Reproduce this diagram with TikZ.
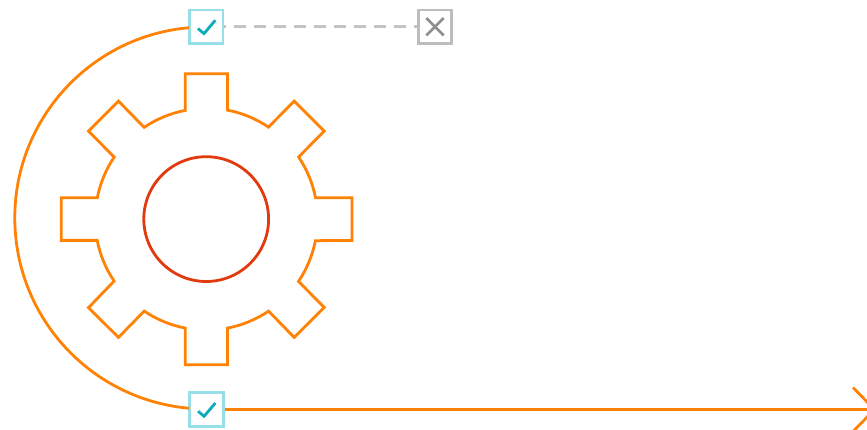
\documentclass[tikz,border=0pt]{standalone}
\definecolor{orangeline}{HTML}{FF8205}
\definecolor{redline}{HTML}{E03A0E}
\definecolor{tealbox}{HTML}{97DFE8}
\definecolor{tealcheck}{HTML}{0AABBA}
\definecolor{greybox}{HTML}{BDBDBD}
\definecolor{greycross}{HTML}{8F8F8F}
\definecolor{greydash}{HTML}{C4C4C4}
\tikzset{
  flow/.style={draw=orangeline,line width=2.8pt},
  okbox/.style={draw=tealbox,line width=2.8pt,fill=white,minimum size=33.5pt,inner sep=0pt},
  nobox/.style={draw=greybox,line width=2.8pt,fill=white,minimum size=33.5pt,inner sep=0pt},
  okmark/.style={draw=tealcheck,line width=2.8pt},
  nomark/.style={draw=greycross,line width=2.6pt},
  skipline/.style={draw=greydash,line width=3pt,dash pattern=on 12pt off 8pt,dash phase=10pt}
}
\begin{document}
\begin{tikzpicture}[x=1pt,y=1pt]
\useasboundingbox (0,0) rectangle (867,430);
\clip (0,0) rectangle (867,430);
\begin{scope}[yshift=-0.4pt,xshift=0.2pt]
\draw[flow,line join=miter]
  (185,320) arc[start angle=100.9,end angle=124,radius=111pt]
  -- (118.3,329.3) -- (88.3,299.3) -- (114,273.3)
  arc[start angle=146,end angle=168.9,radius=111pt]
  -- (61,232.7) -- (61,190) -- (97,190)
  arc[start angle=191.1,end angle=214,radius=111pt]
  -- (88.3,122.7) -- (118.3,93) -- (144,119.3)
  arc[start angle=236,end angle=259.1,radius=111pt]
  -- (185,65.7) -- (227.3,65.7) -- (227.3,102.3)
  arc[start angle=280.9,end angle=304,radius=111pt]
  -- (294,93) -- (324,123) -- (298.3,149)
  arc[start angle=326,end angle=348.9,radius=111pt]
  -- (351.7,190) -- (351.7,232.7) -- (315.3,232.7)
  arc[start angle=11.1,end angle=34,radius=111pt]
  -- (324,299.3) -- (294,329.3) -- (268.3,303.3)
  arc[start angle=56,end angle=79.1,radius=111pt]
  -- (227.3,356.7) -- (185,356.7) -- cycle;
\draw[draw=redline,line width=2.8pt] (206,211.3) circle[radius=62.4pt];
\end{scope}
\node[okbox] (chktop) at (206.3,403.2) {};
\node[okbox] (chkbot) at (206.4,20.5) {};
\node[nobox] (crs) at (435,403.2) {};
\coordinate (tip) at (874.5,20.5);
\coordinate (barbup) at (853,42.5);
\coordinate (barbdn) at (853,-1.5);
\draw[flow] ([xshift=1pt,yshift=-0.9pt]chktop.west) arc[start angle=95,end angle=265,radius=191pt];
\draw[skipline] (chktop.east) -- (crs.west);
\draw[flow] (chkbot.east) -- (tip);
\draw[flow] (barbup) -- (tip) -- (barbdn);
\draw[okmark] ([shift={(-8.3,-1.8)}]chktop.center) -- ([shift={(-2.3,-6.8)}]chktop.center) -- ([shift={(9,6.5)}]chktop.center);
\draw[okmark] ([shift={(-8.3,-1.8)}]chkbot.center) -- ([shift={(-2.3,-6.8)}]chkbot.center) -- ([shift={(9,6.5)}]chkbot.center);
\draw[nomark] ([shift={(-8.7,-8.7)}]crs.center) -- ([shift={(8.7,8.7)}]crs.center);
\draw[nomark] ([shift={(-8.7,8.7)}]crs.center) -- ([shift={(8.7,-8.7)}]crs.center);
\end{tikzpicture}
\end{document}
